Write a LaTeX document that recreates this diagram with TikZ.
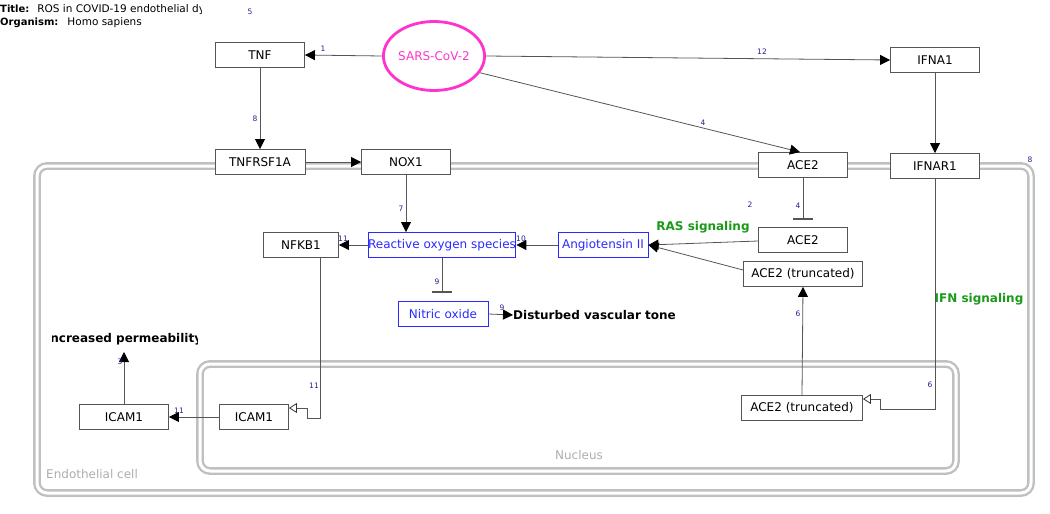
\documentclass[tikz,border=0pt]{standalone}
\usepackage{fontspec}
\setmainfont{DejaVu Sans}
\usetikzlibrary{arrows.meta,shapes.geometric}
\definecolor{lblc}{HTML}{20208A}
\definecolor{mag}{HTML}{FF33CC}
\definecolor{compc}{HTML}{C0C0C0}
\definecolor{grn}{HTML}{1A9A1A}
\definecolor{blu}{HTML}{2A2AFF}
\definecolor{edgec}{HTML}{555555}
\begin{document}
\begin{tikzpicture}[x=1pt,y=-1pt,
  font=\fontsize{12}{14}\selectfont,
  gene/.style={draw=edgec, fill=white, line width=0.9pt, minimum width=89pt, minimum height=25pt, inner sep=0pt},
  metab/.style={draw=blu, fill=white, text=blu, line width=0.9pt, minimum height=25pt, inner sep=0pt},
  arr/.style={draw=edgec, line width=0.8pt, -{Triangle[length=10pt,width=10pt,color=black]}},
  openarr/.style={draw=edgec, line width=0.8pt, -{Triangle[open,length=8pt,width=10pt,color=black!80,fill=white]}},
  inh/.style={draw=edgec, line width=0.9pt, -{Bar[width=20pt,line width=2pt]}},
  elbl/.style={text=lblc, font=\fontsize{7.5}{8}\selectfont, inner sep=0pt},
  compart/.style={draw=compc, double=white, line width=2.4pt, double distance=3pt, rounded corners=10pt},
  complbl/.style={text=compc!90!black, font=\fontsize{12}{14}\selectfont, inner sep=0pt},
  lbltxt/.style={font=\bfseries\fontsize{12}{14}\selectfont, inner sep=0pt},
  sig/.style={text=grn, font=\bfseries\fontsize{12}{14}\selectfont, inner sep=0pt},
  hdr/.style={anchor=west, inner sep=0pt, font=\fontsize{10}{11}\selectfont}
]
\useasboundingbox (0,0) rectangle (1050,514);

% compartments
\draw[compart] (37,166) rectangle (1031,493);
\draw[compart] (200,364) rectangle (956,471);
\node[complbl, anchor=west] (celllbl) at (46,474) {Endothelial cell};
\node[complbl] (nuclbl) at (579,455) {Nucleus};

% title
\begin{scope}
  \clip (0,0) rectangle (201,30);
  \node[hdr] (title) at (0,10) {\textbf{Title:}\hspace{8pt}{\fontsize{10.5}{11}\selectfont ROS in COVID-19 endothelial dys}};
\end{scope}
\node[hdr] (organism) at (0,23) {\textbf{Organism:}\hspace{9pt}{\fontsize{10.5}{11}\selectfont Homo sapiens}};

% nodes
\node[ellipse, draw=mag, line width=2.8pt, minimum width=97pt, minimum height=69pt, text=mag, inner sep=0pt] (sars) at (434,56) {SARS-CoV-2};
\node[gene] (tnf) at (260,55) {TNF};
\node[gene] (ifna1) at (935,60) {IFNA1};
\node[gene, minimum width=90pt] (tnfr) at (260,162) {TNFRSF1A};
\node[gene] (nox1) at (406,162) {NOX1};
\node[gene] (ace2a) at (803,165) {ACE2};
\node[gene] (ifnar1) at (935,166) {IFNAR1};
\node[gene] (ace2b) at (803,240) {ACE2};
\node[gene, minimum width=119pt] (ace2t) at (803,274) {ACE2 (truncated)};
\node[metab, minimum width=90pt] (ang) at (603,245) {Angiotensin II};
\node[metab, minimum width=143pt] (ros) at (442,245) {Reactive oxygen species};
\node[gene, minimum width=75pt] (nfkb1) at (301,245) {NFKB1};
\node[metab, minimum width=90pt] (no) at (443,314) {Nitric oxide};
\node[lbltxt, anchor=west] (dvt) at (513,315) {Disturbed vascular tone};
\begin{scope}
  \clip (52,325) rectangle (197,352);
  \node[lbltxt] (perm) at (124,339) {Increased permeability};
\end{scope}
\coordinate (permb) at (124,352);
\node[gene] (icaml) at (124,417) {ICAM1};
\node[gene, minimum width=69pt] (icamr) at (254,417) {ICAM1};
\node[gene, minimum width=121pt] (ace2n) at (802,408) {ACE2 (truncated)};

\node[sig] (ras) at (703,227) {RAS signaling};
\node[sig] (ifn) at (979,299) {IFN signaling};

% edges
\draw[arr] (sars.west) -- (tnf.east);
\draw[arr] (sars.east) -- (ifna1.west);
\draw[arr] (sars.-20) -- ([xshift=-3pt]ace2a.north);
\draw[arr] (tnf.south) -- (tnfr.north);
\draw[arr] (tnfr.east) -- (nox1.west);
\draw[arr] (ifna1.south) -- (ifnar1.north);
\draw[arr] (nox1.south) -- (nox1.south |- ros.north);
\draw[inh] (ace2a.south) -- ([yshift=7pt]ace2b.north);
\draw[arr] ([yshift=-1pt]ace2b.west) -- (ang.east);
\draw[arr] ([yshift=4pt]ace2t.west) -- (ang.east);
\draw[arr] (ang.west) -- (ros.east);
\draw[arr] (ros.west) -- (nfkb1.east);
\draw[inh] (ros.south) -- ([yshift=8pt]no.north -| ros.south);
\draw[arr] (no.east) -- (dvt.west);
\draw[arr] (ace2n.north) -- (ace2t.south);
\draw[arr] (icamr.west) -- (icaml.east);
\draw[arr] (icaml.north) -- (permb);
\draw[draw=edgec, line width=0.8pt] ([xshift=19pt]nfkb1.south) -- (320,418) -- (307,418) -- (307,408) -- (297,408);
\draw[openarr] (298,408) -- ([yshift=9pt]icamr.east);
\draw[draw=edgec, line width=0.8pt] (ifnar1.south) -- (935,409) -- (880,409) -- (880,399) -- (871,399);
\draw[openarr] (872,399) -- ([yshift=9pt]ace2n.east);

% edge labels
\node[elbl] (l5) at (250,12) {5};
\node[elbl] (l1) at (323,49) {1};
\node[elbl] (l12) at (762,52) {12};
\node[elbl] (l4a) at (703,123) {4};
\node[elbl] (l8a) at (255,119) {8};
\node[elbl] (l8b) at (1030,160) {8};
\node[elbl] (l7) at (401,209) {7};
\node[elbl] (l2) at (750,205) {2};
\node[elbl] (l4b) at (798,206) {4};
\node[elbl] (l10) at (521,239) {10};
\node[elbl] (l11a) at (343,239) {11};
\node[elbl] (l9a) at (437,282) {9};
\node[elbl] (l9b) at (502,308) {9};
\node[elbl] (l6a) at (798,314) {6};
\node[elbl] (l6b) at (930,385) {6};
\node[elbl] (l11b) at (314,386) {11};
\node[elbl] (l11c) at (179,411) {11};
\node[elbl] (l3) at (120,362) {3};
\end{tikzpicture}
\end{document}
